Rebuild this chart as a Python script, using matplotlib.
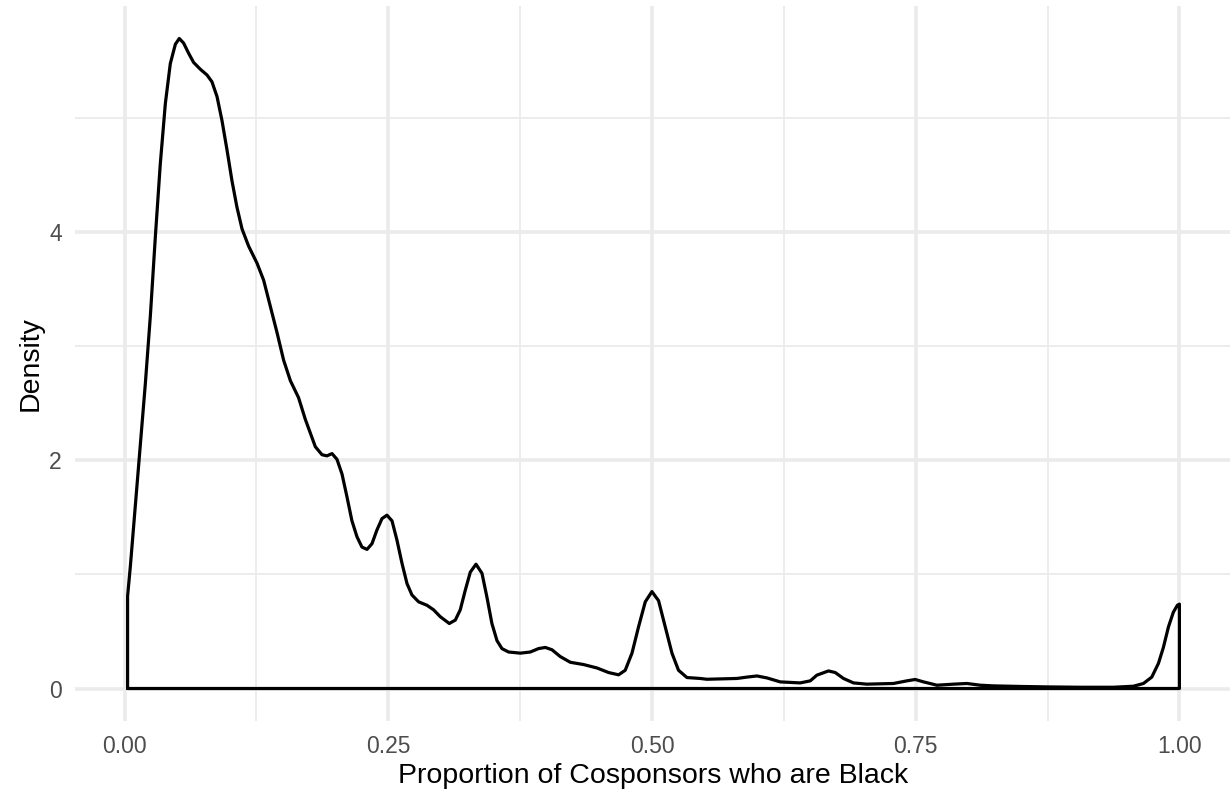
import matplotlib
matplotlib.use("Agg")
import matplotlib.pyplot as plt

# density curve of the proportion of cosponsors who are Black
prop = [0.0028, 0.0054, 0.0101, 0.0149, 0.0196, 0.0244, 0.0291, 0.0338, 0.0386,
        0.0433, 0.0481, 0.0518, 0.0559, 0.0607, 0.0654, 0.0718, 0.0781, 0.0828,
        0.0876, 0.0923, 0.0971, 0.1018, 0.1065, 0.1113, 0.1175, 0.1255, 0.1318,
        0.1381, 0.1445, 0.1507, 0.1571, 0.1649, 0.1713, 0.1808, 0.1871, 0.1918,
        0.1966, 0.2013, 0.2061, 0.2108, 0.2155, 0.2203, 0.2250, 0.2298, 0.2345,
        0.2392, 0.2440, 0.2487, 0.2535, 0.2582, 0.2629, 0.2677, 0.2724, 0.2787,
        0.2866, 0.2929, 0.2992, 0.3078, 0.3135, 0.3182, 0.3229, 0.3277, 0.3331,
        0.3388, 0.3435, 0.3482, 0.3530, 0.3577, 0.3640, 0.3751, 0.3846, 0.3924,
        0.3988, 0.4051, 0.4130, 0.4225, 0.4351, 0.4478, 0.4588, 0.4683, 0.4746,
        0.4810, 0.4872, 0.4936, 0.4999, 0.5062, 0.5125, 0.5189, 0.5251, 0.5331,
        0.5457, 0.5520, 0.5805, 0.5900, 0.5994, 0.6089, 0.6215, 0.6405, 0.6500,
        0.6563, 0.6673, 0.6737, 0.6815, 0.6910, 0.7037, 0.7289, 0.7416, 0.7495,
        0.7574, 0.7701, 0.7858, 0.7985, 0.8111, 0.8237, 0.8490, 0.8743, 0.9059,
        0.9375, 0.9564, 0.9659, 0.9738, 0.9801, 0.9848, 0.9896, 0.9943, 0.9981,
        1.0000]
density = [0.81, 1.07, 1.60, 2.13, 2.67, 3.27, 3.96, 4.60, 5.13,
           5.48, 5.65, 5.70, 5.66, 5.57, 5.49, 5.43, 5.38, 5.32,
           5.19, 4.98, 4.72, 4.45, 4.22, 4.03, 3.88, 3.73, 3.58,
           3.35, 3.12, 2.88, 2.70, 2.55, 2.36, 2.12, 2.05, 2.04,
           2.06, 2.01, 1.88, 1.68, 1.47, 1.33, 1.24, 1.22, 1.27,
           1.39, 1.49, 1.52, 1.47, 1.30, 1.10, 0.92, 0.82, 0.76,
           0.73, 0.69, 0.63, 0.57, 0.60, 0.69, 0.86, 1.02, 1.09,
           1.01, 0.80, 0.57, 0.42, 0.35, 0.32, 0.31, 0.32, 0.35,
           0.36, 0.34, 0.28, 0.23, 0.21, 0.18, 0.14, 0.12, 0.16,
           0.31, 0.54, 0.76, 0.85, 0.77, 0.54, 0.31, 0.16, 0.096,
           0.088, 0.081, 0.088, 0.10, 0.11, 0.093, 0.058, 0.049, 0.067,
           0.117, 0.154, 0.14, 0.088, 0.049, 0.038, 0.044, 0.067, 0.079,
           0.058, 0.029, 0.038, 0.044, 0.029, 0.023, 0.018, 0.014, 0.011,
           0.011, 0.020, 0.044, 0.10, 0.22, 0.36, 0.54, 0.67, 0.73,
           0.74]

x_ticks = [0.0, 0.25, 0.50, 0.75, 1.0]
x_labels = ["0.00", "0.25", "0.50", "0.75", "1.00"]
y_ticks = [0, 2, 4]
y_labels = ["0", "2", "4"]
x_minor = [0.125, 0.375, 0.625, 0.875]
y_minor = [1, 3, 5]

plt.rcParams["font.family"] = ["Liberation Sans", "DejaVu Sans"]

W, H = 1230, 794
fig = plt.figure(figsize=(W / 100, H / 100), dpi=100)
# panel in pixels: x 75..1232, y 6..721
ax = fig.add_axes([75 / W, (H - 721) / H, (1232 - 75) / W, (721 - 6) / H])

# ggplot-style expansion (5%) of the data range
x0, x1 = min(prop), max(prop)
ymax = max(density)
ax.set_xlim(x0 - 0.05 * (x1 - x0), x1 + 0.05 * (x1 - x0))
ax.set_ylim(-0.05 * ymax, ymax * 1.05)

grid = "#EBEBEB"
for v in x_minor:
    ax.axvline(v, color=grid, lw=1.35, zorder=0)
for v in y_minor:
    ax.axhline(v, color=grid, lw=1.35, zorder=0)
for v in x_ticks:
    ax.axvline(v, color=grid, lw=2.6, zorder=0)
for v in y_ticks:
    ax.axhline(v, color=grid, lw=2.6, zorder=0)

# outline of the density polygon, closed along the baseline
px = [prop[0]] + prop + [prop[-1], prop[0]]
py = [0.0] + density + [0.0, 0.0]
ax.plot(px, py, color="black", lw=2.3, solid_joinstyle="round",
        solid_capstyle="round", zorder=3)

for s in ax.spines.values():
    s.set_visible(False)
ax.set_xticks(x_ticks)
ax.set_xticklabels(x_labels)
ax.set_yticks(y_ticks)
ax.set_yticklabels(y_labels)
ax.tick_params(axis="x", length=0, pad=10, labelsize=16.5, labelcolor="#4D4D4D")
ax.tick_params(axis="y", length=0, pad=9.5, labelsize=16.5, labelcolor="#4D4D4D")
ax.set_xlabel("Proportion of Cosponsors who are Black", fontsize=20.5, labelpad=4)
ax.set_ylabel("Density", fontsize=20.5, labelpad=4)

fig.savefig("out.png", dpi=100)
